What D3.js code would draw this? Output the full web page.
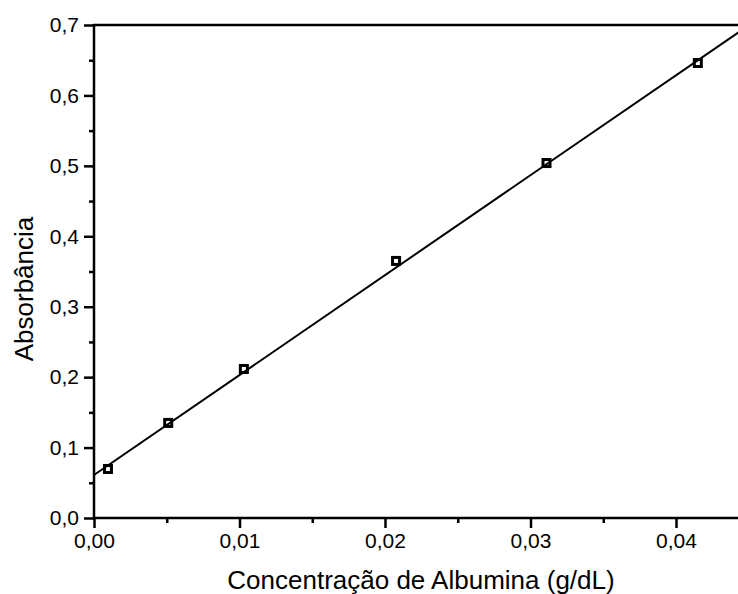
<!DOCTYPE html>
<html>
<head>
<meta charset="utf-8">
<script src="https://cdn.jsdelivr.net/npm/d3@7"></script>
<style>
  body { margin: 0; background: #fff; }
  svg { display: block; }
  svg text { font-family: "Liberation Sans", Arial, sans-serif; fill: #000; }
</style>
</head>
<body>
<svg width="738" height="594"></svg>
<script>
// measured points
const concentracao = [0.00096, 0.0051, 0.0103, 0.02076, 0.0311, 0.0415];
const absorbancia = [0.0696, 0.135, 0.2116, 0.365, 0.504, 0.646];

// fitted line
const fitX = [0, 0.045];
const fitY = [0.061, 0.6996];

const xTicks = [0, 0.01, 0.02, 0.03, 0.04];
const yTicks = [0, 0.1, 0.2, 0.3, 0.4, 0.5, 0.6, 0.7];

const svg = d3.select('svg');
const width = +svg.attr('width');
const height = +svg.attr('height');
const margin = { top: 25, left: 94, bottom: 76 };

const x = d3.scaleLinear().domain([0, 0.045]).range([margin.left, margin.left + 654.75]);
const y = d3.scaleLinear().domain([0, 0.7]).range([height - margin.bottom, margin.top]);

const fmt = (d, n) => d.toFixed(n).replace('.', ',');

const xMinor = xTicks.map(d => d + 0.005).filter(d => d < 0.045);
const yMinor = yTicks.slice(0, -1).map(d => d + 0.05);

const styleAxis = g => {
    g.select('.domain').remove();
    g.selectAll('.tick line').attr('stroke', '#000').attr('stroke-width', 2.5);
    g.selectAll('.tick text')
        .style('font-family', '"Liberation Sans", Arial, sans-serif')
        .style('font-size', '21px')
        .attr('fill', '#000');
};

svg.append('g')
    .attr('transform', `translate(0,${y(0)})`)
    .call(d3.axisBottom(x).tickValues(xTicks).tickSize(10).tickPadding(5).tickFormat(d => fmt(d, 2)))
    .call(styleAxis);
svg.append('g')
    .attr('transform', `translate(0,${y(0)})`)
    .call(d3.axisBottom(x).tickValues(xMinor).tickSize(5).tickFormat(''))
    .call(styleAxis);

svg.append('g')
    .attr('transform', `translate(${x(0)},0)`)
    .call(d3.axisLeft(y).tickValues(yTicks).tickSize(10).tickPadding(5).tickFormat(d => fmt(d, 1)))
    .call(styleAxis);
svg.append('g')
    .attr('transform', `translate(${x(0)},0)`)
    .call(d3.axisLeft(y).tickValues(yMinor).tickSize(5).tickFormat(''))
    .call(styleAxis);

// frame lines: bottom, left, top
const frame = [
    [x(0) - 1, y(0), width, y(0)],
    [x(0), y(0.7) - 1, x(0), y(0) + 1],
    [x(0) - 1, y(0.7), width, y(0.7)]
];
svg.selectAll('line.frame').data(frame)
    .enter().append('line')
    .attr('class', 'frame')
    .attr('x1', d => d[0]).attr('y1', d => d[1])
    .attr('x2', d => d[2]).attr('y2', d => d[3])
    .attr('stroke', '#000').attr('stroke-width', 2.5);

// markers
svg.selectAll('rect.pt').data(concentracao)
    .enter().append('rect')
    .attr('class', 'pt')
    .attr('x', d => x(d) - 3.5)
    .attr('y', (d, i) => y(absorbancia[i]) - 3.5)
    .attr('width', 7).attr('height', 7)
    .attr('fill', '#fff').attr('stroke', '#000').attr('stroke-width', 3);

// fit line
svg.append('path')
    .datum(fitX.map((d, i) => [d, fitY[i]]))
    .attr('fill', 'none').attr('stroke', '#000').attr('stroke-width', 2)
    .attr('d', d3.line().x(d => x(d[0])).y(d => y(d[1])));

// axis titles
svg.append('text')
    .attr('x', 421).attr('y', 589)
    .attr('text-anchor', 'middle').style('font-size', '26px')
    .text('Concentração de Albumina (g/dL)');

svg.append('text')
    .attr('transform', 'translate(33,289) rotate(-90)')
    .attr('text-anchor', 'middle').style('font-size', '26px')
    .text('Absorbância');
</script>
</body>
</html>
